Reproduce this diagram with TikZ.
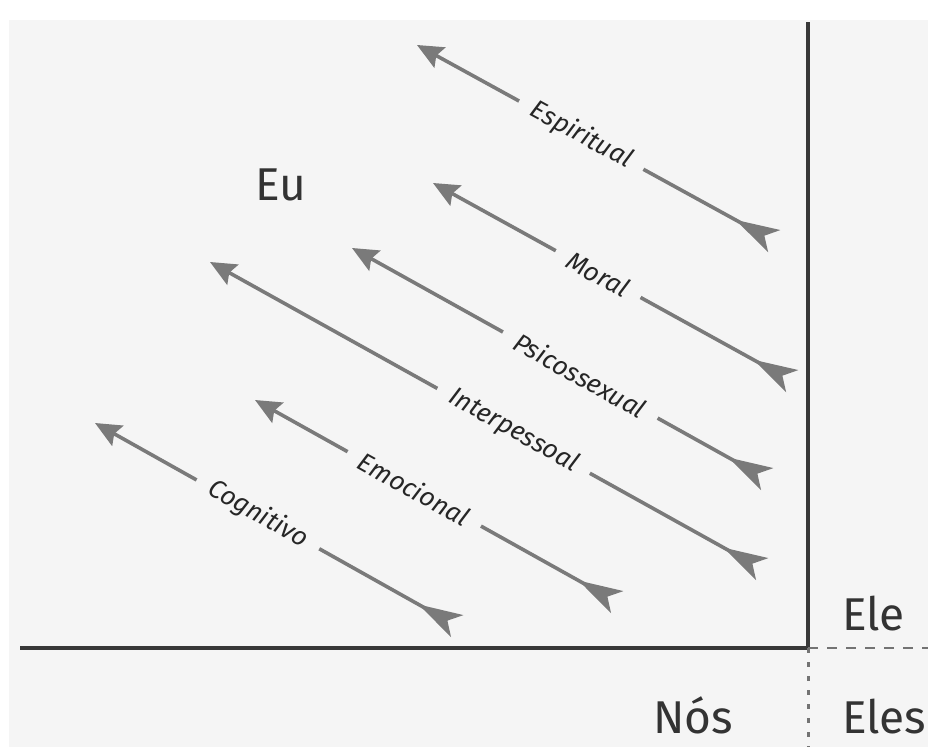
\documentclass[tikz,border=0pt]{standalone}
\usepackage{fontspec}
\setmainfont{Fira Sans}
\usetikzlibrary{arrows.meta,positioning}

\tikzset{
  seta/.style={line width=3.6pt, draw=black!52,
    {Stealth[reversed,length=44pt,width=25pt,inset=11pt]}-{Stealth[length=26pt,width=23pt,inset=4pt]}},
  rotulo/.style={sloped, fill=white!96!black, inner xsep=15pt, inner ysep=2pt,
    text=black!85, font=\itshape\fontsize{26}{28}\selectfont},
  quadrante/.style={anchor=base west, inner sep=0pt, text=black!80,
    font=\fontsize{46}{50}\selectfont}
}

\begin{document}
\begin{tikzpicture}[x=1pt,y=-1pt]
% Page and paper background
\useasboundingbox (0,0) rectangle (928,747);
\fill[white] (0,0) rectangle (928,747);
\fill[white!96!black] (9,20) rectangle (928,747);

% Axes: solid quadrant, dashed and dotted continuations
\coordinate (centro) at (808,648);
\coordinate (topo) at (808,22);
\coordinate (esq) at (20,648);
\coordinate (dir) at (928,648);
\coordinate (base) at (808,747);
\draw[line width=3.2pt, black!78] (topo) -- (centro) -- (esq);
\draw[line width=2.4pt, black!55, dash pattern=on 10pt off 9pt] (centro) -- (dir);
\draw[line width=3pt, black!55, dash pattern=on 5pt off 9pt] (centro) -- (base);

% Quadrant names
\node[quadrante] (eu) at (255,200) {Eu};
\node[quadrante] (ele) at (842,630) {Ele};
\node[quadrante] (nos) at (653,733) {Nós};
\node[quadrante] (eles) at (842,733) {Eles};

% Development arrows (tail -> head)
\coordinate (espT) at (774,241);  \coordinate (espH) at (417,45);
\coordinate (morT) at (792,381);  \coordinate (morH) at (433,183);
\coordinate (psiT) at (767,479);  \coordinate (psiH) at (352,248);
\coordinate (intT) at (762,569);  \coordinate (intH) at (210,262);
\coordinate (emoT) at (617,602);  \coordinate (emoH) at (255,400);
\coordinate (cogT) at (457,626);  \coordinate (cogH) at (95,423);

\draw[seta] (espT) -- node[rotulo, pos=0.54] (esp) {Espiritual} (espH);
\draw[seta] (morT) -- node[rotulo, pos=0.54] (mor) {Moral} (morH);
\draw[seta] (psiT) -- node[rotulo, pos=0.45] (psi) {Psicossexual} (psiH);
\draw[seta] (intT) -- node[rotulo, pos=0.45] (int) {Interpessoal} (intH);
\draw[seta] (emoT) -- node[rotulo, pos=0.56] (emo) {Emocional} (emoH);
\draw[seta] (cogT) -- node[rotulo, pos=0.55] (cog) {Cognitivo} (cogH);
\end{tikzpicture}
\end{document}
